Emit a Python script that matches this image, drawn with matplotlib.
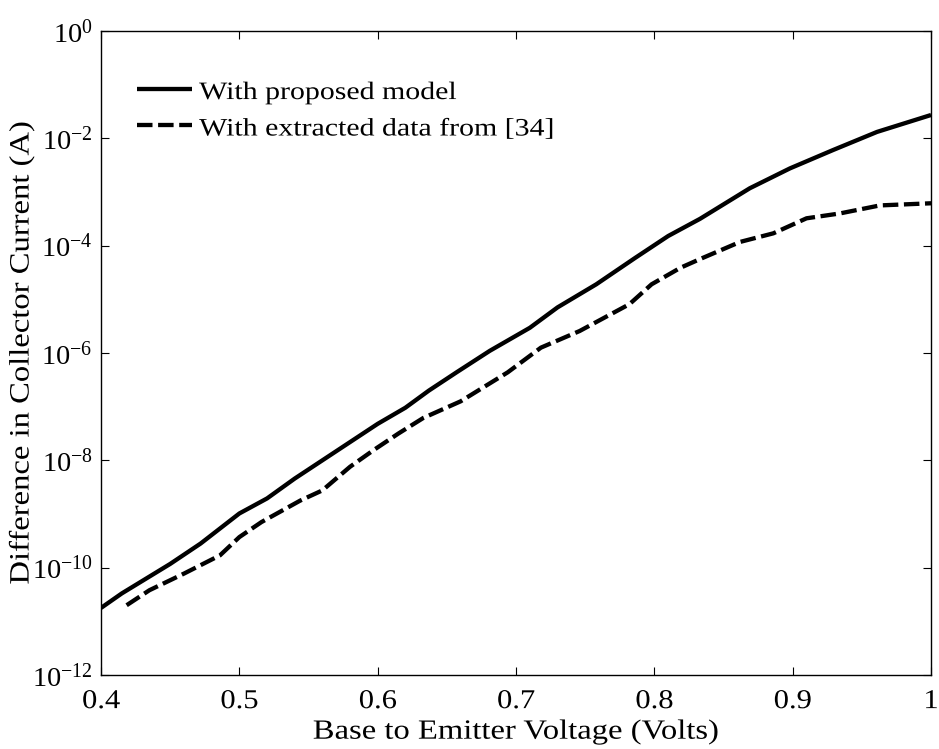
import numpy as np
import matplotlib
matplotlib.use("Agg")
import matplotlib.pyplot as plt
from matplotlib.patheffects import AbstractPathEffect
from matplotlib.transforms import Affine2D

# Base-emitter voltage (V) and log10 of collector current difference (A)
vbe_model = [0.400, 0.415, 0.450, 0.472, 0.500, 0.520, 0.540, 0.560, 0.580,
             0.600, 0.620, 0.637, 0.657, 0.681, 0.710, 0.730, 0.758, 0.786,
             0.810, 0.833, 0.869, 0.898, 0.929, 0.961, 1.000]
log_ic_model = [-10.75, -10.48, -9.93, -9.55, -8.99, -8.71, -8.34, -8.00, -7.66,
                -7.32, -7.02, -6.70, -6.36, -5.96, -5.53, -5.15, -4.72, -4.23,
                -3.82, -3.50, -2.93, -2.56, -2.22, -1.88, -1.565]

vbe_ref = [0.4185, 0.435, 0.460, 0.486, 0.500, 0.516, 0.544, 0.560, 0.580,
           0.597, 0.615, 0.633, 0.660, 0.694, 0.718, 0.746, 0.782, 0.798,
           0.819, 0.833, 0.862, 0.886, 0.910, 0.934, 0.963, 1.000]
log_ic_ref = [-10.70, -10.42, -10.11, -9.77, -9.43, -9.15, -8.75, -8.56, -8.12,
              -7.81, -7.50, -7.21, -6.90, -6.36, -5.90, -5.59, -5.09, -4.72,
              -4.41, -4.25, -3.93, -3.77, -3.49, -3.40, -3.25, -3.21]

x_ticks = [0.4, 0.5, 0.6, 0.7, 0.8, 0.9, 1.0]
x_tick_labels = ["0.4", "0.5", "0.6", "0.7", "0.8", "0.9", "1"]
y_ticks = [1e-12, 1e-10, 1e-8, 1e-6, 1e-4, 1e-2, 1e0]


class SquashY(AbstractPathEffect):
    """Shrink glyph height about the baseline (the source font runs wide)."""

    def __init__(self, sy):
        super().__init__()
        self.sy = sy

    def draw_path(self, renderer, gc, tpath, affine, rgbFace=None):
        renderer.draw_path(gc, tpath, Affine2D().scale(1, self.sy) + affine, rgbFace)


plt.rcParams["font.family"] = ["Liberation Serif", "DejaVu Serif"]
plt.rcParams["mathtext.fontset"] = "custom"
plt.rcParams["mathtext.rm"] = "Liberation Serif"
plt.rcParams["mathtext.it"] = "Liberation Serif:italic"
plt.rcParams["mathtext.default"] = "regular"
plt.rcParams["axes.unicode_minus"] = False

fig = plt.figure(figsize=(9.39, 7.49), dpi=100)
ax = fig.add_axes([0.1076, 0.0988, 0.8839, 0.8598])

ax.semilogy(vbe_model, 10 ** np.array(log_ic_model), color="black", lw=3.1,
            solid_capstyle="butt", label="With proposed model")
ax.semilogy(vbe_ref, 10 ** np.array(log_ic_ref), color="black", lw=3.1,
            linestyle=(0, (3.6, 1.3)), label="With extracted data from [34]")

ax.set_xlim(0.4, 1.0)
ax.set_ylim(1e-12, 1e0)
ax.set_xticks(x_ticks)
ax.set_xticklabels(x_tick_labels)
ax.set_yticks(y_ticks)
ax.yaxis.set_minor_locator(matplotlib.ticker.NullLocator())

ax.tick_params(which="both", direction="in", top=True, right=True,
               length=5.5, width=0.8)
ax.tick_params(axis="x", labelsize=22, pad=8)
ax.tick_params(axis="y", labelsize=20.5, pad=6)
for lab in ax.get_xticklabels():
    lab.set_path_effects([SquashY(0.89)])
for sp in ax.spines.values():
    sp.set_linewidth(1.0)

xl = ax.set_xlabel("Base to Emitter Voltage (Volts)", fontsize=23.5, labelpad=0)
yl = ax.set_ylabel("Difference in Collector Current (A)", fontsize=23.5, labelpad=-3)
xl.set_path_effects([SquashY(0.85)])
yl.set_path_effects([SquashY(0.86)])

leg = ax.legend(loc="upper left", bbox_to_anchor=(0.025, 0.95), frameon=False,
                fontsize=21.5, handlelength=1.84, handletextpad=0.25,
                borderpad=0, labelspacing=0.32)
for t in leg.get_texts():
    t.set_path_effects([SquashY(0.84)])

fig.savefig("out.png", dpi=100)
